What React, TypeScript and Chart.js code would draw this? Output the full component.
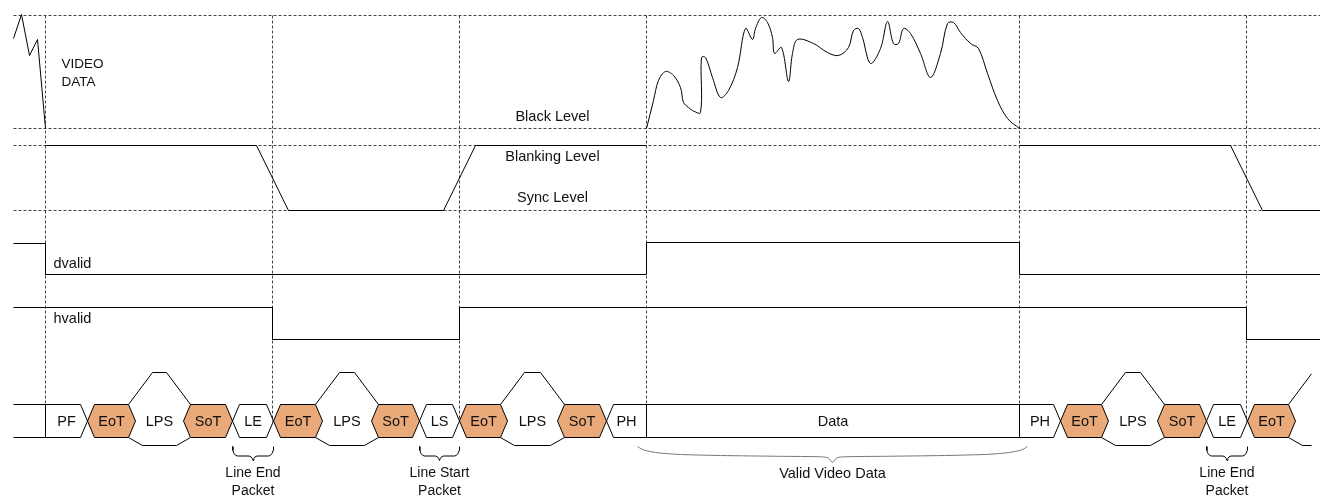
import React, { useEffect, useRef } from "react";
import { Chart, registerables } from "chart.js";

Chart.register(...registerables);

const W = 1320;
const H = 498;

// ---------- reference levels (dotted horizontals) ----------
const refLevels = [15, 128, 145, 210];
const refFrom = 13;
const refTo = 1320;

// ---------- vertical timing markers (dashed) ----------
const markerTimes = [45, 272, 459, 646, 1019, 1246];
const markerBottoms = [404, 421, 421, 404, 404, 421];
const markerTop = 15;

// ---------- composite video waveform ----------
const zigT = [13, 21, 29, 37, 45];
const zigY = [38, 14, 55, 39, 128];

const blank1T = [45, 256, 288, 443, 475, 646];
const blank1Y = [145, 145, 210, 210, 145, 145];

const videoT = [
  646, 653, 658, 665, 673, 680, 683, 688, 692, 700, 701, 705, 712, 720, 728, 737, 745, 752, 755, 761,
  767, 772, 774, 781, 788, 792, 797, 813, 827, 838, 848, 853, 858, 862, 870, 880, 887, 893, 898, 903,
  910, 920, 930, 940, 947, 953, 960, 970, 978, 987, 997, 1007, 1019,
];
const videoY = [
  128, 100, 80, 71, 75, 87, 102, 107, 110, 112, 57, 57, 77, 97, 90, 67, 28, 39, 28, 17,
  22, 37, 53, 47, 81, 53, 39, 43, 52, 55, 47, 30, 28, 37, 63, 48, 21, 43, 43, 28,
  33, 53, 77, 53, 23, 22, 32, 43, 48, 73, 100, 118, 128,
];

const blank2T = [1019, 1230, 1262, 1320];
const blank2Y = [145, 145, 210, 210];

// ---------- valid signals ----------
const dvalidT = [13, 45, 45, 646, 646, 1019, 1019, 1320];
const dvalidY = [243, 243, 274, 274, 242, 242, 274, 274];
const hvalidT = [13, 272, 272, 459, 459, 1246, 1246, 1320];
const hvalidY = [307, 307, 339, 339, 307, 307, 339, 339];

// ---------- packet bus ----------
const packetLabels = [
  "PF", "EoT", "LPS", "SoT", "LE", "EoT", "LPS", "SoT", "LS", "EoT", "LPS",
  "SoT", "PH", "Data", "PH", "EoT", "LPS", "SoT", "LE", "EoT", "LPS",
];
const packetStart = [
  45, 87, 128, 183, 232, 273, 315, 371, 419, 459, 500,
  557, 606, 646, 1019, 1060, 1101, 1157, 1206, 1247, 1288,
];
const packetEnd = [
  87, 135, 190, 232, 273, 322, 378, 419, 459, 507, 564,
  606, 646, 1019, 1060, 1108, 1164, 1206, 1247, 1295, 1352,
];
const busTop = 404;
const busBottom = 437;
const lpsTop = 372;
const lpsBottom = 445;
const busFrom = 13;
const busTo = 1311;

// ---------- braces ----------
const braceStart = [232, 419, 1206];
const braceEnd = [273, 459, 1247];
const braceLine1 = ["Line End", "Line Start", "Line End"];
const braceLine2 = ["Packet", "Packet", "Packet"];

const wideBraceT = [637, 641, 645, 655, 665, 680, 720, 780, 820, 828, 832, 836, 844, 884, 944, 984, 999, 1009, 1019, 1023, 1027];
const wideBraceY = [446, 448.5, 450, 452, 453, 454, 455, 455.8, 456.3, 457.5, 462, 457.5, 456.3, 455.8, 455, 454, 453, 452, 450, 448.5, 446];
const wideBraceText = "Valid Video Data";

// ---------- annotation texts ----------
const levelLabelTexts = ["Black Level", "Blanking Level", "Sync Level"];
const levelLabelY = [116, 156, 197];
const levelLabelX = 552;
const signalLabelTexts = ["dvalid", "hvalid"];
const signalLabelY = [263, 318];
const signalLabelX = 53;
const videoLabelTexts = ["VIDEO", "DATA"];
const videoLabelY = [64, 82];
const videoLabelX = 61;

// ---------- styling ----------
const ORANGE = "#E9A978";
const SLANT = 7;
const LPS_TOP_RISE = 24;
const LPS_BOT_RISE = 14;
const FONT = "'Liberation Sans', Arial, Helvetica, sans-serif";

type P = { x: number; y: number };

const zip = (t: number[], v: number[]): P[] => t.map((x, i) => ({ x, y: v[i] }));

function clipX(pts: P[], limit: number): P[] {
  const out: P[] = [];
  for (let i = 0; i < pts.length; i++) {
    const p = pts[i];
    if (p.x <= limit) out.push(p);
    else {
      const q = pts[i - 1];
      if (q && q.x < limit) {
        out.push({ x: limit, y: q.y + ((p.y - q.y) * (limit - q.x)) / (p.x - q.x) });
      }
      break;
    }
  }
  return out;
}

function ds(data: P[], extra: any = {}) {
  return {
    data,
    borderColor: "#000",
    borderWidth: 1,
    pointRadius: 0,
    pointHoverRadius: 0,
    fill: false,
    tension: 0,
    ...extra,
  };
}

function buildDatasets() {
  const solid: any[] = [];
  const busCenter = (busTop + busBottom) / 2;

  // signals
  solid.push(ds(zip(zigT, zigY)));
  solid.push(ds(zip(blank1T, blank1Y)));
  solid.push(ds(zip(videoT, videoY), { tension: 0.35 }));
  solid.push(ds(zip(blank2T, blank2Y)));
  solid.push(ds(zip(dvalidT, dvalidY)));
  solid.push(ds(zip(hvalidT, hvalidY)));

  // bus tail
  solid.push(ds([{ x: busFrom, y: busTop }, { x: packetStart[0], y: busTop }]));
  solid.push(ds([{ x: busFrom, y: busBottom }, { x: packetStart[0], y: busBottom }]));

  packetLabels.forEach((label, i) => {
    const lp = packetStart[i];
    const rp = packetEnd[i];
    if (label === "LPS") {
      const top = clipX(
        [
          { x: lp, y: busTop },
          { x: lp + LPS_TOP_RISE, y: lpsTop },
          { x: rp - LPS_TOP_RISE, y: lpsTop },
          { x: rp, y: busTop },
        ],
        busTo
      );
      const bot = clipX(
        [
          { x: lp, y: busBottom },
          { x: lp + LPS_BOT_RISE, y: lpsBottom },
          { x: rp - LPS_BOT_RISE, y: lpsBottom },
          { x: rp, y: busBottom },
        ],
        busTo
      );
      solid.push(ds(top));
      solid.push(ds(bot));
      return;
    }
    const prev = packetLabels[i - 1];
    const next = packetLabels[i + 1];
    const squareLeft = i === 0 || prev === "Data" || label === "Data";
    const squareRight = next === "Data" || label === "Data";
    const top: P[] = [];
    const bot: P[] = [];
    if (squareLeft) {
      top.push({ x: lp, y: busBottom }, { x: lp, y: busTop });
      bot.push({ x: lp, y: busBottom });
    } else {
      top.push({ x: lp, y: busCenter }, { x: lp + SLANT, y: busTop });
      bot.push({ x: lp, y: busCenter }, { x: lp + SLANT, y: busBottom });
    }
    if (squareRight) {
      top.push({ x: rp, y: busTop }, { x: rp, y: busBottom });
      bot.push({ x: rp, y: busBottom });
    } else {
      top.push({ x: rp - SLANT, y: busTop }, { x: rp, y: busCenter });
      bot.push({ x: rp - SLANT, y: busBottom }, { x: rp, y: busCenter });
    }
    const orange = label === "EoT" || label === "SoT";
    const extra = orange
      ? { fill: { target: { value: busCenter } }, backgroundColor: ORANGE }
      : {};
    solid.push(ds(top, extra));
    solid.push(ds(bot, extra));
  });

  // small braces
  braceStart.forEach((s, i) => {
    const e = braceEnd[i];
    const m = (s + e) / 2;
    const pts: P[] = [
      { x: s, y: 446 },
      { x: s + 0.4, y: 450 },
      { x: s + 1.5, y: 453 },
      { x: s + 3, y: 454.8 },
      { x: s + 5, y: 455.5 },
      { x: m - 4, y: 455.5 },
      { x: m - 2, y: 456.4 },
      { x: m - 0.8, y: 458 },
      { x: m, y: 460 },
      { x: m + 0.8, y: 458 },
      { x: m + 2, y: 456.4 },
      { x: m + 4, y: 455.5 },
      { x: e - 5, y: 455.5 },
      { x: e - 3, y: 454.8 },
      { x: e - 1.5, y: 453 },
      { x: e - 0.4, y: 450 },
      { x: e, y: 446 },
    ];
    solid.push(ds(pts));
  });
  solid.push(ds(zip(wideBraceT, wideBraceY), { borderColor: "#777", tension: 0.3 }));

  // dashed guides (drawn underneath: later index = drawn first)
  const guides: any[] = [];
  markerTimes.forEach((t, i) => {
    guides.push(
      ds(
        [
          { x: t, y: markerTop },
          { x: t, y: markerBottoms[i] },
        ],
        { borderColor: "#444", borderDash: [3, 2] }
      )
    );
  });
  refLevels.forEach((lv) => {
    guides.push(
      ds(
        [
          { x: refFrom, y: lv },
          { x: refTo, y: lv },
        ],
        { borderColor: "#444", borderDash: [3, 2] }
      )
    );
  });
  return [...solid, ...guides];
}

const textPlugin = {
  id: "diagramText",
  afterDatasetsDraw(chart: any) {
    const { ctx } = chart;
    const xs = chart.scales.x;
    const ys = chart.scales.y;
    const put = (text: string, t: number, v: number, align: CanvasTextAlign, size = 14, color = "#111") => {
      ctx.save();
      ctx.font = `${size}px ${FONT}`;
      ctx.textAlign = align;
      ctx.textBaseline = "middle";
      ctx.fillStyle = color;
      ctx.fillText(text, xs.getPixelForValue(t), ys.getPixelForValue(v));
      ctx.restore();
    };
    videoLabelTexts.forEach((s, i) => put(s, videoLabelX, videoLabelY[i], "left", 13.5));
    levelLabelTexts.forEach((s, i) => put(s, levelLabelX, levelLabelY[i], "center", 14.5));
    signalLabelTexts.forEach((s, i) => put(s, signalLabelX, signalLabelY[i], "left", 14.5));
    const busCenter = (busTop + busBottom) / 2;
    packetLabels.forEach((s, i) => {
      const c = (packetStart[i] + packetEnd[i]) / 2;
      if (c < busTo - 10) put(s, c, busCenter + 0.5, "center", 14.5);
    });
    braceStart.forEach((s, i) => {
      const c = (s + braceEnd[i]) / 2;
      put(braceLine1[i], c, 473, "center");
      put(braceLine2[i], c, 491, "center");
    });
    put(wideBraceText, (wideBraceT[0] + wideBraceT[wideBraceT.length - 1]) / 2, 473, "center", 14.5);
  },
};

export default function App() {
  const ref = useRef<HTMLCanvasElement>(null);
  useEffect(() => {
    if (!ref.current) return;
    const chart = new Chart(ref.current, {
      type: "line",
      data: { datasets: buildDatasets() as any },
      options: {
        animation: false,
        responsive: false,
        devicePixelRatio: 1,
        events: [],
        layout: { padding: 0 },
        scales: {
          x: { type: "linear", min: -0.5, max: W - 0.5, display: false },
          y: { type: "linear", min: -0.5, max: H - 0.5, reverse: true, display: false },
        },
        plugins: {
          legend: { display: false },
          tooltip: { enabled: false },
          filler: { propagate: false },
        },
      } as any,
      plugins: [textPlugin],
    });
    return () => chart.destroy();
  }, []);
  return (
    <div style={{ position: "fixed", left: 0, top: 0, width: W, height: H, background: "#fff" }}>
      <canvas ref={ref} width={W} height={H} style={{ display: "block" }} />
    </div>
  );
}
